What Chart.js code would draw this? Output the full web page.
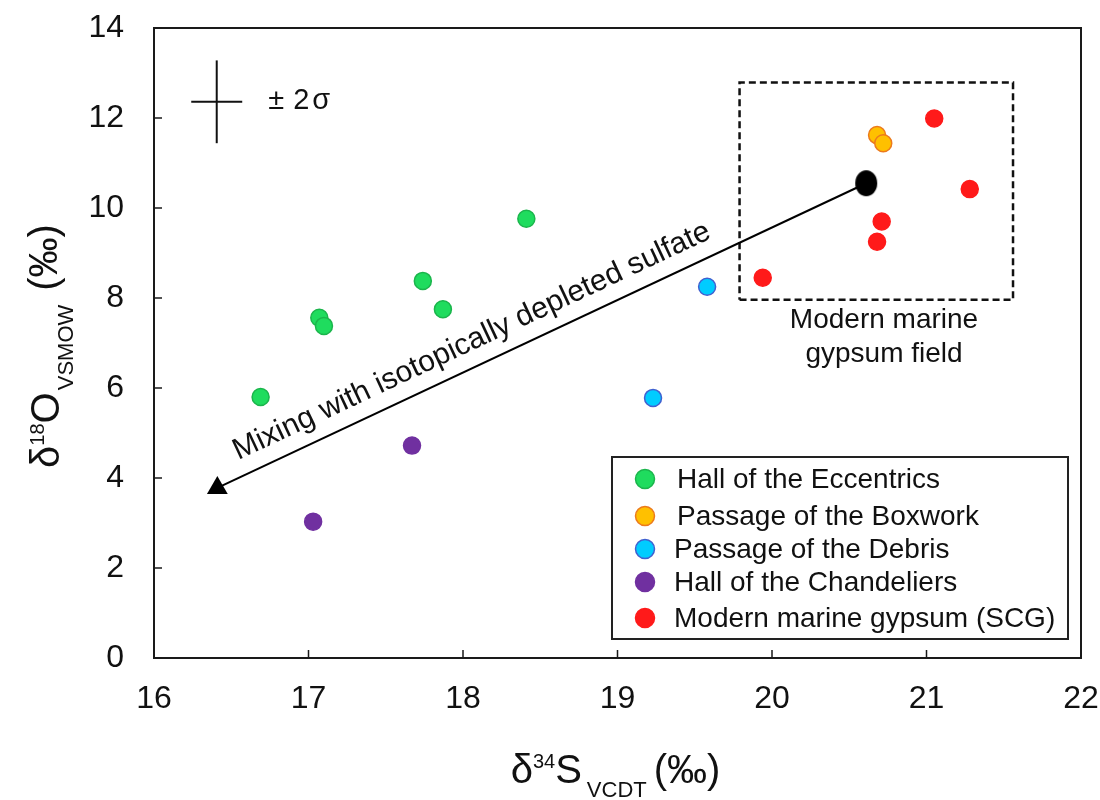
<!DOCTYPE html>
<html>
<head>
<meta charset="utf-8">
<script src="https://cdn.jsdelivr.net/npm/chart.js@4.4.0/dist/chart.umd.min.js"></script>
<style>
  body { margin: 0; background: #fff; }
  #wrap { width: 1100px; height: 800px; }
</style>
</head>
<body>
<div id="wrap"><canvas id="chart" width="1100" height="800"></canvas></div>
<script>
// DATA (d34S VCDT vs d18O VSMOW, permil)
const groupNames = [
  "Hall of the Eccentrics",
  "Passage of the Boxwork",
  "Passage of the Debris",
  "Hall of the Chandeliers",
  "Modern marine gypsum (SCG)"
];
const eccentricsX = [16.69, 17.07, 17.10, 17.74, 17.87, 18.41];
const eccentricsY = [5.80, 7.56, 7.38, 8.38, 7.75, 9.76];
const boxworkX = [20.68, 20.72];
const boxworkY = [11.62, 11.44];
const debrisX = [19.23, 19.58];
const debrisY = [5.78, 8.25];
const chandeliersX = [17.03, 17.67];
const chandeliersY = [3.03, 4.72];
const scgX = [19.94, 20.68, 20.71, 21.05, 21.28];
const scgY = [8.45, 9.25, 9.70, 11.99, 10.42];

// mixing trend: marine end-member -> depleted end-member
const mixingX = [20.61, 16.41];
const mixingY = [10.55, 3.78];

// modern marine gypsum field (dashed box)
const fieldX = [19.79, 21.56, 21.56, 19.79, 19.79];
const fieldY = [7.96, 7.96, 12.79, 12.79, 7.96];

// +/- 2 sigma error cross
const sigmaCenter = [16.406, 12.36];
const sigmaHalfX = 0.165;
const sigmaHalfY = 0.92;

const xTicks = [16, 17, 18, 19, 20, 21, 22];
const yTicks = [0, 2, 4, 6, 8, 10, 12, 14];

const fillColors = ["#1fdc5e", "#ffc000", "#00ccff", "#7030a0", "#ff1a1a"];
const edgeColors = ["#1bb54c", "#ec7a1c", "#4060d0", "#7030a0", "#ff1a1a"];

const FONT = "'Liberation Sans', Arial, sans-serif";

function pts(xs, ys) {
  return xs.map((x, i) => ({ x: x, y: ys[i] }));
}

// black ellipse for the marine end-member
const ellipse = document.createElement("canvas");
ellipse.width = 24;
ellipse.height = 28;
(function () {
  const c = ellipse.getContext("2d");
  c.fillStyle = "#000";
  c.beginPath();
  c.ellipse(12, 14, 11, 13, 0, 0, Math.PI * 2);
  c.fill();
})();

const groupsX = [eccentricsX, boxworkX, debrisX, chandeliersX, scgX];
const groupsY = [eccentricsY, boxworkY, debrisY, chandeliersY, scgY];

const datasets = groupNames.map((name, i) => ({
  label: name,
  data: pts(groupsX[i], groupsY[i]),
  backgroundColor: fillColors[i],
  borderColor: edgeColors[i],
  borderWidth: 1.5,
  pointRadius: 8.5,
  pointHoverRadius: 8.5,
  showLine: false,
  order: 1
}));

datasets.push({
  label: "mixing",
  data: pts(mixingX, mixingY),
  showLine: true,
  borderColor: "#000",
  borderWidth: 2,
  backgroundColor: "#000",
  pointStyle: [ellipse, "triangle"],
  pointRadius: [12, 12],
  pointBorderWidth: 0,
  order: 2
});

datasets.push({
  label: "field",
  data: pts(fieldX, fieldY),
  showLine: true,
  borderColor: "#111",
  borderWidth: 2.5,
  borderDash: [7, 4],
  pointRadius: 0,
  order: 3
});

datasets.push({
  label: "sigmaH",
  data: [
    { x: sigmaCenter[0] - sigmaHalfX, y: sigmaCenter[1] },
    { x: sigmaCenter[0] + sigmaHalfX, y: sigmaCenter[1] }
  ],
  showLine: true,
  borderColor: "#111",
  borderWidth: 2,
  pointRadius: 0,
  order: 3
});
datasets.push({
  label: "sigmaV",
  data: [
    { x: sigmaCenter[0], y: sigmaCenter[1] - sigmaHalfY },
    { x: sigmaCenter[0], y: sigmaCenter[1] + sigmaHalfY }
  ],
  showLine: true,
  borderColor: "#111",
  borderWidth: 2,
  pointRadius: 0,
  order: 3
});

// draw text made of pieces (sub / superscripts)
function drawRich(ctx, parts, cx, baseY) {
  let total = 0;
  parts.forEach(p => {
    ctx.font = p.size + "px " + FONT;
    p.w = ctx.measureText(p.t).width;
    total += p.w + (p.gap || 0);
  });
  let x = cx - total / 2;
  ctx.textAlign = "left";
  ctx.textBaseline = "alphabetic";
  parts.forEach(p => {
    ctx.font = p.size + "px " + FONT;
    ctx.fillText(p.t, x, baseY + (p.dy || 0));
    x += p.w + (p.gap || 0);
  });
}

const framePlugin = {
  id: "frame",
  beforeDatasetsDraw(chart) {
    const ctx = chart.ctx;
    const a = chart.chartArea;
    const xs = chart.scales.x, ys = chart.scales.y;
    ctx.save();
    ctx.strokeStyle = "#1a1a1a";
    ctx.lineWidth = 2;
    ctx.strokeRect(a.left, a.top, a.right - a.left, a.bottom - a.top);
    ctx.lineWidth = 1.5;
    ctx.beginPath();
    xTicks.forEach(v => {
      const px = xs.getPixelForValue(v);
      ctx.moveTo(px, a.bottom);
      ctx.lineTo(px, a.bottom - 8);
    });
    yTicks.forEach(v => {
      const py = ys.getPixelForValue(v);
      ctx.moveTo(a.left, py);
      ctx.lineTo(a.left + 8, py);
    });
    ctx.stroke();
    ctx.restore();
  },
  afterDraw(chart) {
    const ctx = chart.ctx;
    const a = chart.chartArea;
    const xs = chart.scales.x, ys = chart.scales.y;
    ctx.save();
    ctx.fillStyle = "#111";

    // axis titles
    drawRich(ctx, [
      { t: "δ", size: 40 },
      { t: "34", size: 20, dy: -15 },
      { t: "S", size: 40, gap: 5 },
      { t: "VCDT", size: 22, dy: 14, gap: 7 },
      { t: "(‰)", size: 40 }
    ], (a.left + a.right) / 2 - 2, 783);

    ctx.save();
    ctx.translate(59, (a.top + a.bottom) / 2 + 3);
    ctx.rotate(-Math.PI / 2);
    drawRich(ctx, [
      { t: "δ", size: 40 },
      { t: "18", size: 20, dy: -15 },
      { t: "O", size: 40, gap: 2 },
      { t: "VSMOW", size: 22, dy: 14, gap: 14 },
      { t: "(‰)", size: 40, dy: -2 }
    ], 0, 0);
    ctx.restore();

    // error label
    drawRich(ctx, [
      { t: "±", size: 29, gap: 9 },
      { t: "2", size: 29, gap: 3 },
      { t: "σ", size: 29 }
    ], xs.getPixelForValue(16.94), ys.getPixelForValue(12.36) + 7);

    // field label
    ctx.font = "28px " + FONT;
    ctx.textAlign = "center";
    ctx.fillText("Modern marine", xs.getPixelForValue(20.725), ys.getPixelForValue(7.33));
    ctx.fillText("gypsum field", xs.getPixelForValue(20.725), ys.getPixelForValue(6.58));

    // mixing label along the arrow
    const p0 = { x: xs.getPixelForValue(mixingX[1]), y: ys.getPixelForValue(mixingY[1]) };
    const p1 = { x: xs.getPixelForValue(mixingX[0]), y: ys.getPixelForValue(mixingY[0]) };
    const ang = Math.atan2(p1.y - p0.y, p1.x - p0.x);
    ctx.save();
    ctx.translate(xs.getPixelForValue(18.08), ys.getPixelForValue(6.87));
    ctx.rotate(ang);
    ctx.font = "30px " + FONT;
    ctx.textAlign = "center";
    ctx.fillText("Mixing with isotopically depleted sulfate", 0, 0);
    ctx.restore();

    // legend box
    const lx = 612, ly = 457, lw = 456, lh = 182;
    ctx.fillStyle = "#fff";
    ctx.fillRect(lx, ly, lw, lh);
    ctx.strokeStyle = "#222";
    ctx.lineWidth = 2;
    ctx.strokeRect(lx, ly, lw, lh);
    const rowY = [479, 516, 549, 582, 618];
    const textX = [677, 677, 674, 674, 674];
    ctx.font = "28px " + FONT;
    ctx.textAlign = "left";
    ctx.textBaseline = "middle";
    groupNames.forEach((name, i) => {
      ctx.beginPath();
      ctx.arc(645, rowY[i], 9.5, 0, Math.PI * 2);
      ctx.fillStyle = fillColors[i];
      ctx.fill();
      ctx.lineWidth = 1.5;
      ctx.strokeStyle = edgeColors[i];
      ctx.stroke();
      ctx.fillStyle = "#111";
      ctx.fillText(name, textX[i], rowY[i] + 1);
    });
    ctx.restore();
  }
};

new Chart(document.getElementById("chart"), {
  type: "scatter",
  data: { datasets: datasets },
  options: {
    responsive: false,
    devicePixelRatio: 1,
    animation: false,
    layout: { padding: { top: 28, right: 19, left: 0, bottom: 0 } },
    plugins: { legend: { display: false }, tooltip: { enabled: false } },
    scales: {
      x: {
        type: "linear",
        min: 16,
        max: 22,
        grid: { display: false },
        border: { display: false },
        ticks: { font: { size: 32, family: FONT }, color: "#111", padding: 14 },
        afterBuildTicks: s => { s.ticks = xTicks.map(v => ({ value: v })); },
        afterFit: s => { s.height = 142; s.paddingLeft = 0; s.paddingRight = 0; }
      },
      y: {
        type: "linear",
        min: 0,
        max: 14,
        grid: { display: false },
        border: { display: false },
        ticks: { font: { size: 32, family: FONT }, color: "#111", padding: 22 },
        afterBuildTicks: s => { s.ticks = yTicks.map(v => ({ value: v })); },
        afterFit: s => { s.width = 154; s.paddingTop = 0; s.paddingBottom = 0; }
      }
    }
  },
  plugins: [framePlugin]
});
</script>
</body>
</html>
